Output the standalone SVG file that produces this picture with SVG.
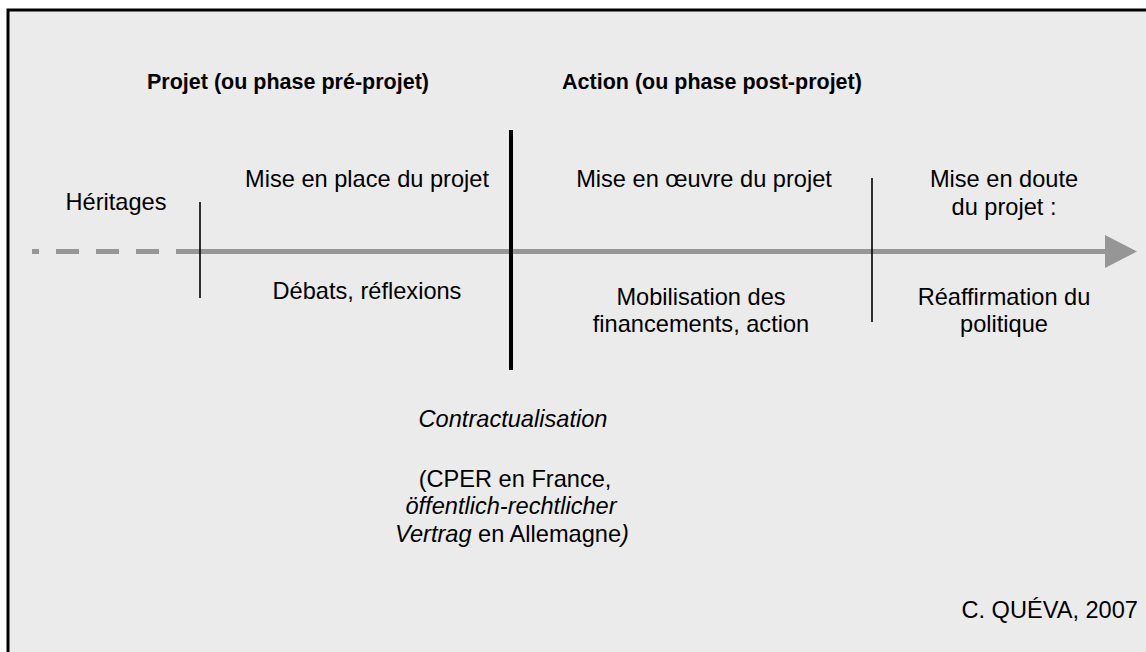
<svg xmlns="http://www.w3.org/2000/svg" width="1146" height="652" viewBox="0 0 1146 652">
<style>
text{font-family:"Liberation Sans",Arial,sans-serif;fill:#000;}
.t{font-size:21.5px;font-weight:bold;text-anchor:middle;}
.r{font-size:23.6px;text-anchor:middle;}
.i{font-style:italic;}
.axis{stroke:#969696;stroke-width:5;fill:none;}
.thin{stroke:#000;stroke-width:1.6;}
.thick{stroke:#000;stroke-width:4;}
</style>
<rect x="0" y="0" width="1146" height="652" fill="#fff"/>
<rect x="8" y="10" width="1150" height="660" fill="#ebebeb" stroke="#000" stroke-width="3"/>
<g id="connectors">
<line class="axis" x1="32" y1="251.5" x2="177" y2="251.5" stroke-dasharray="23 17" stroke-dashoffset="16"/>
<line class="axis" x1="176" y1="251.5" x2="1107" y2="251.5"/>
<polygon points="1105,235 1137,251.5 1105,268" fill="#969696"/>
<line class="thin" x1="200" y1="202" x2="200" y2="298"/>
<line class="thick" x1="511" y1="130" x2="511" y2="370"/>
<line class="thin" x1="872" y1="178" x2="872" y2="322"/>
</g>
<g id="title-projet"><text class="t" x="288" y="89">Projet (ou phase pré-projet)</text></g>
<g id="title-action"><text class="t" x="712" y="89">Action (ou phase post-projet)</text></g>
<g id="heritages"><text class="r" x="116" y="210">Héritages</text></g>
<g id="mise-en-place"><text class="r" x="367" y="187">Mise en place du projet</text></g>
<g id="debats"><text class="r" x="367" y="299">Débats, réflexions</text></g>
<g id="mise-en-oeuvre"><text class="r" x="704" y="187">Mise en œuvre du projet</text></g>
<g id="mobilisation"><text class="r" x="701" y="305">Mobilisation des</text><text class="r" x="701" y="332">financements, action</text></g>
<g id="mise-en-doute"><text class="r" x="1004" y="187">Mise en doute</text><text class="r" x="1004" y="215">du projet :</text></g>
<g id="reaffirmation"><text class="r" x="1004" y="305">Réaffirmation du</text><text class="r" x="1004" y="332">politique</text></g>
<g id="contractualisation">
<text class="r i" x="513" y="427">Contractualisation</text>
<text class="r" x="515" y="487">(CPER en France,</text>
<text class="r i" x="511" y="514">öffentlich-rechtlicher</text>
<text class="r" x="512" y="542"><tspan class="i">Vertrag</tspan> en Allemagne<tspan class="i">)</tspan></text>
</g>
<g id="credit"><text class="r" x="1138" y="618" style="text-anchor:end">C. QUÉVA, 2007</text></g>
</svg>
